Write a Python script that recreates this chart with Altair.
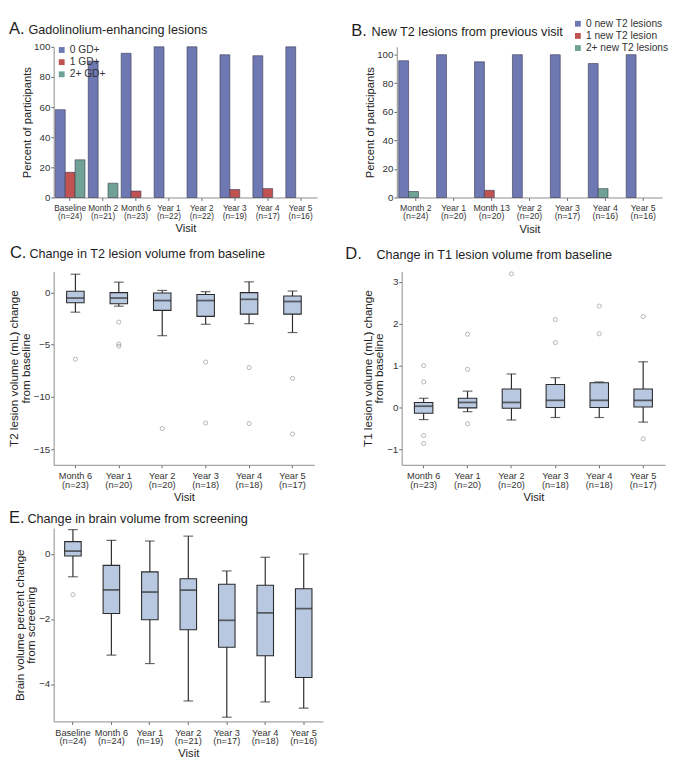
import altair as alt
import pandas as pd

FONT = "Liberation Sans"

# ---------- Panel A: Gadolinium-enhancing lesions ----------
a_visits = ["Baseline|(n=24)", "Month 2|(n=21)", "Month 6|(n=23)", "Year 1|(n=22)",
            "Year 2|(n=22)", "Year 3|(n=19)", "Year 4|(n=17)", "Year 5|(n=16)"]
a_cats = ["0 GD+", "1 GD+", "2+ GD+"]
a_zero = [58.3, 90.5, 95.7, 100, 100, 94.7, 94.1, 100]
a_one = [16.7, 0, 4.3, 0, 0, 5.3, 5.9, 0]
a_two = [25.0, 9.5, 0, 0, 0, 0, 0, 0]

# ---------- Panel B: New T2 lesions ----------
b_visits = ["Month 2|(n=24)", "Year 1|(n=20)", "Month 13|(n=20)", "Year 2|(n=20)",
            "Year 3|(n=17)", "Year 4|(n=16)", "Year 5|(n=16)"]
b_cats = ["0 new T2 lesions", "1 new T2 lesion", "2+ new T2 lesions"]
b_zero = [95.8, 100, 95.0, 100, 100, 93.8, 100]
b_one = [0, 0, 5.0, 0, 0, 0, 0]
b_two = [4.2, 0, 0, 0, 0, 6.2, 0]

# ---------- Panel C: T2 lesion volume change ----------
c_visits = ["Month 6|(n=23)", "Year 1|(n=20)", "Year 2|(n=20)", "Year 3|(n=18)",
            "Year 4|(n=18)", "Year 5|(n=17)"]
c_low = [-1.9, -1.33, -4.15, -3.06, -3.0, -3.85]
c_q1 = [-1.0, -1.1, -1.73, -2.3, -2.09, -2.09]
c_med = [-0.55, -0.55, -0.79, -0.79, -0.67, -0.88]
c_q3 = [0.1, -0.03, -0.06, -0.21, -0.03, -0.36]
c_high = [1.73, 0.97, 0.18, 0.06, 1.0, 0.12]
c_out_visit = ["Month 6|(n=23)", "Year 1|(n=20)", "Year 1|(n=20)", "Year 1|(n=20)",
               "Year 2|(n=20)", "Year 3|(n=18)", "Year 3|(n=18)", "Year 4|(n=18)",
               "Year 4|(n=18)", "Year 5|(n=17)", "Year 5|(n=17)"]
c_out_val = [-6.4, -2.85, -4.94, -5.15, -13.03, -6.67, -12.5, -7.2, -12.55, -8.24, -13.55]

# ---------- Panel D: T1 lesion volume change ----------
d_visits = c_visits
d_low = [-0.29, -0.1, -0.3, -0.24, -0.24, -0.35]
d_q1 = [-0.14, -0.01, -0.02, 0.0, 0.0, 0.01]
d_med = [0.03, 0.12, 0.12, 0.17, 0.17, 0.17]
d_q3 = [0.12, 0.22, 0.44, 0.55, 0.59, 0.44]
d_high = [0.22, 0.39, 0.8, 0.71, 0.61, 1.09]
d_out_visit = ["Month 6|(n=23)", "Month 6|(n=23)", "Month 6|(n=23)", "Month 6|(n=23)",
               "Year 1|(n=20)", "Year 1|(n=20)", "Year 1|(n=20)", "Year 2|(n=20)",
               "Year 3|(n=18)", "Year 3|(n=18)", "Year 4|(n=18)", "Year 4|(n=18)",
               "Year 5|(n=17)", "Year 5|(n=17)"]
d_out_val = [1.0, 0.61, -0.67, -0.86, 1.75, 0.91, -0.39, 3.19, 2.1, 1.55, 2.42, 1.76, 2.17, -0.75]

# ---------- Panel E: brain volume change ----------
e_visits = ["Baseline|(n=24)", "Month 6|(n=24)", "Year 1|(n=19)", "Year 2|(n=21)",
            "Year 3|(n=17)", "Year 4|(n=18)", "Year 5|(n=16)"]
e_low = [-0.7, -3.11, -3.37, -4.52, -5.02, -4.55, -4.74]
e_q1 = [-0.06, -1.83, -2.02, -2.33, -2.87, -3.13, -3.8]
e_med = [0.09, -1.1, -1.17, -1.11, -2.04, -1.81, -1.68]
e_q3 = [0.38, -0.35, -0.55, -0.76, -0.93, -0.96, -1.07]
e_high = [0.75, 0.42, 0.4, 0.55, -0.52, -0.1, 0.0]
e_out_visit = ["Baseline|(n=24)"]
e_out_val = [-1.25]

BAR_COLORS = ["#6e78b2", "#c05352", "#6fa195"]
BOX_FILL = "#b9c8e1"
DARK = "#2b2b2b"
AXIS_GREY = "#8a8a8a"
LABEL_EXPR = "split(datum.label, '|')"


def x_axis(fs):
    return alt.Axis(title="Visit", labelExpr=LABEL_EXPR, labelAngle=0, labelFontSize=fs,
                    labelLineHeight=9, titleFontSize=11.5, titleFontWeight="normal",
                    tickSize=3, labelPadding=3, domainColor=AXIS_GREY, tickColor="#666",
                    titlePadding=3, labelOverlap=False)


def y_axis(ttl, vals, tsize):
    return alt.Axis(title=ttl, values=vals, titleFontSize=tsize, titleFontWeight="normal",
                    labelFontSize=10, tickSize=3, domainColor=AXIS_GREY, tickColor="#666",
                    titleLineHeight=12, titlePadding=1, labelPadding=1, labelOverlap=False)


def title_layers(letter, text, lx, tx, by):
    base = alt.Chart(pd.DataFrame({"k": [0]}))
    t1 = base.mark_text(text=letter, fontSize=17, align="left", baseline="alphabetic",
                        font=FONT, color="#1e1e1e").encode(x=alt.value(lx), y=alt.value(by))
    t2 = base.mark_text(text=text, fontSize=13, align="left", baseline="alphabetic",
                        font=FONT, color="#1e1e1e").encode(x=alt.value(tx), y=alt.value(by))
    return [t1, t2]


def bar_panel(visits, cats, series, slot_of, legend, ttl, ymax, w, h, fs):
    rows = []
    for ci, cat in enumerate(cats):
        for vi, v in enumerate(visits):
            val = series[ci][vi]
            if val > 0:
                rows.append({"visit": v, "cat": cat, "slot": slot_of[ci], "pct": val})
    df = pd.DataFrame(rows)
    slots = sorted(set(slot_of))
    bars = alt.Chart(df).mark_bar(stroke="#3d3d55", strokeWidth=0.8, strokeOpacity=0.8).encode(
        x=alt.X("visit:N", sort=visits, axis=x_axis(fs),
                scale=alt.Scale(paddingInner=0.1, paddingOuter=0.05)),
        xOffset=alt.XOffset("slot:N", scale=alt.Scale(domain=slots, paddingInner=0, paddingOuter=0)),
        y=alt.Y("pct:Q", scale=alt.Scale(domain=[0, ymax], nice=False),
                axis=y_axis("Percent of participants", [0, 20, 40, 60, 80, 100], 11.5)),
        color=alt.Color("cat:N", scale=alt.Scale(domain=cats, range=BAR_COLORS), legend=legend),
    )
    return alt.layer(bars, *title_layers(*ttl)).properties(width=w, height=h)


def box_panel(visits, low, q1, med, q3, high, out_v, out_y, ttl, ytitle, ydom, yvals, w, h, box_w):
    df = pd.DataFrame({"visit": visits, "low": low, "q1": q1, "med": med, "q3": q3, "high": high})
    dfo = pd.DataFrame({"visit": out_v, "val": out_y})
    xenc = alt.X("visit:N", sort=visits, axis=x_axis(9.5),
                 scale=alt.Scale(paddingInner=0.2, paddingOuter=0.1))
    ysc = alt.Scale(domain=ydom, nice=False, zero=False)
    base = alt.Chart(df)
    whisk = base.mark_rule(color=DARK, strokeWidth=1.2).encode(
        x=xenc, y=alt.Y("low:Q", scale=ysc, axis=y_axis(ytitle, yvals, 12)), y2="high:Q")
    caps_lo = base.mark_tick(color=DARK, size=10, thickness=1.2).encode(x=xenc, y="low:Q")
    caps_hi = base.mark_tick(color=DARK, size=10, thickness=1.2).encode(x=xenc, y="high:Q")
    box = base.mark_bar(size=box_w, fill=BOX_FILL, stroke=DARK, strokeWidth=1.1).encode(
        x=xenc, y="q1:Q", y2="q3:Q")
    medl = base.mark_tick(color=DARK, size=box_w, thickness=1.8).encode(x=xenc, y="med:Q")
    outs = alt.Chart(dfo).mark_point(shape="circle", size=18, color="#8c8c8c", strokeWidth=0.9,
                                     filled=False).encode(x=xenc, y="val:Q")
    return alt.layer(whisk, caps_lo, caps_hi, box, medl, outs,
                     *title_layers(*ttl)).properties(width=w, height=h)


legA = alt.Legend(orient="none", legendX=3, legendY=-2, title=None, symbolType="square",
                  symbolSize=36, labelFontSize=10.5, rowPadding=1.5, labelOffset=3, padding=0,
                  symbolStrokeWidth=0, labelColor="#333", labelFont=FONT)
legB = alt.Legend(orient="none", legendX=181, legendY=-29, title=None, symbolType="square",
                  symbolSize=36, labelFontSize=10.5, rowPadding=1.5, labelOffset=3, padding=0,
                  symbolStrokeWidth=0, labelColor="#333", labelFont=FONT)

chartA = bar_panel(a_visits, a_cats, [a_zero, a_one, a_two], [0, 1, 2], legA,
                   ("A.", "Gadolinolium-enhancing lesions", -46, -26, -13), 100, 271, 155, 8.5)
chartB = bar_panel(b_visits, b_cats, [b_zero, b_one, b_two], [0, 1, 1], legB,
                   ("B.", "New T2 lesions from previous visit", -47, -26, -11), 105.5, 273, 155, 9)

chartC = box_panel(c_visits, c_low, c_q1, c_med, c_q3, c_high, c_out_visit, c_out_val,
                   ("C.", "Change in T2 lesion volume from baseline", -45, -25, -14),
                   ["T2 lesion volume (mL) change", "from baseline"],
                   [-16.5, 2.0], [0, -5, -10, -15], 268, 199, 18)
chartD = box_panel(d_visits, d_low, d_q1, d_med, d_q3, d_high, d_out_visit, d_out_val,
                   ("D.", "Change in T1 lesion volume from baseline", -58, -26, -13),
                   ["T1 lesion volume (mL) change", "from baseline"],
                   [-1.37, 3.25], [-1, 0, 1, 2, 3], 271, 199, 19)
chartE = box_panel(e_visits, e_low, e_q1, e_med, e_q3, e_high, e_out_visit, e_out_val,
                   ("E.", "Change in brain volume from screening", -46, -27, -5),
                   ["Brain volume percent change", "from screening"],
                   [-5.15, 0.8], [0, -2, -4], 277, 199, 17)

row1 = alt.hconcat(chartA, chartB, spacing=35).resolve_scale(color="independent")
row2 = alt.hconcat(chartC, chartD, spacing=32)
top = alt.vconcat(row1, row2, spacing=9).resolve_scale(color="independent")
chart = alt.vconcat(top, chartE, spacing=7).resolve_scale(color="independent").configure(
    font=FONT, padding=0
).configure_view(stroke=None).configure_axis(
    grid=False, labelColor="#333", titleColor="#222", labelFont=FONT, titleFont=FONT
).configure_legend(labelFont=FONT)

chart.save("out.html", embed_options={"renderer": "svg", "actions": False})
